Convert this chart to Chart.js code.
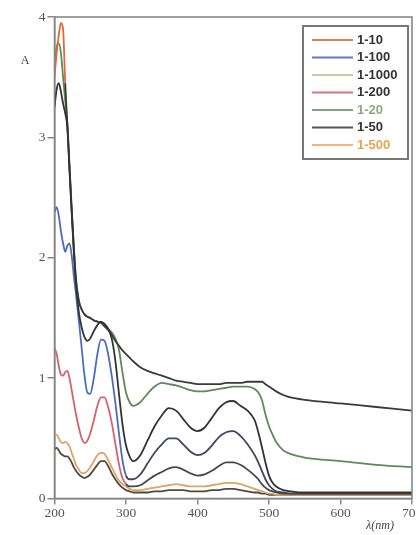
<!DOCTYPE html>
<html>
<head>
<meta charset="utf-8">
<script src="https://cdn.jsdelivr.net/npm/chart.js@4.4.1/dist/chart.umd.min.js"></script>
<style>
  html, body { margin: 0; padding: 0; background: #fff; }
  #wrap { width: 416px; height: 535px; }
</style>
</head>
<body>
<div id="wrap"><canvas id="myChart" width="416" height="535"></canvas></div>
<script>
// wavelength grid (nm), shared by all the dilutions
const wavelengths = [200, 203, 206, 209, 212, 215, 218, 221, 224, 227, 230, 234, 238, 242, 246, 250, 255, 260, 265, 270,
  275, 280, 285, 290, 295, 300, 305, 310, 320, 330, 340, 350, 360, 370, 380, 390, 400, 410, 420, 430,
  440, 450, 460, 470, 480, 485, 490, 495, 500, 505, 510, 520, 530, 550, 600, 650, 700];

const a10 = [3.5, 3.7, 3.85, 3.95, 3.9, 3.45, 3.1, 2.75, 2.4, 2.08, 1.82, 1.64, 1.57, 1.53, 1.51, 1.5, 1.48, 1.47, 1.46, 1.43,
  1.4, 1.36, 1.31, 1.27, 1.23, 1.2, 1.17, 1.14, 1.09, 1.06, 1.04, 1.02, 1.0, 0.98, 0.97, 0.96, 0.95, 0.95, 0.95, 0.95,
  0.96, 0.96, 0.96, 0.97, 0.97, 0.97, 0.97, 0.95, 0.93, 0.91, 0.89, 0.86, 0.84, 0.82, 0.79, 0.76, 0.73];
const a100 = [2.38, 2.42, 2.35, 2.22, 2.12, 2.05, 2.1, 2.12, 2.02, 1.85, 1.7, 1.48, 1.25, 1.02, 0.88, 0.87, 1.0, 1.2, 1.32, 1.31,
  1.2, 1.02, 0.8, 0.55, 0.32, 0.19, 0.16, 0.16, 0.2, 0.29, 0.38, 0.45, 0.5, 0.5, 0.45, 0.39, 0.36, 0.38, 0.44, 0.51,
  0.55, 0.56, 0.52, 0.45, 0.36, 0.3, 0.23, 0.16, 0.11, 0.08, 0.06, 0.05, 0.04, 0.04, 0.04, 0.04, 0.04];
const a1000 = [0.41, 0.42, 0.4, 0.37, 0.36, 0.35, 0.35, 0.33, 0.3, 0.26, 0.23, 0.2, 0.18, 0.17, 0.18, 0.2, 0.24, 0.28, 0.31, 0.31,
  0.27, 0.21, 0.16, 0.12, 0.09, 0.07, 0.06, 0.05, 0.05, 0.05, 0.06, 0.06, 0.07, 0.07, 0.07, 0.06, 0.06, 0.06, 0.07, 0.07,
  0.08, 0.08, 0.07, 0.06, 0.05, 0.05, 0.04, 0.04, 0.03, 0.03, 0.03, 0.03, 0.03, 0.03, 0.03, 0.03, 0.03];
const a200 = [1.25, 1.2, 1.1, 1.03, 1.02, 1.05, 1.06, 1.0, 0.9, 0.8, 0.7, 0.59, 0.5, 0.46, 0.48, 0.54, 0.65, 0.77, 0.84, 0.84,
  0.76, 0.63, 0.46, 0.29, 0.17, 0.12, 0.1, 0.1, 0.11, 0.15, 0.19, 0.22, 0.25, 0.26, 0.24, 0.21, 0.19, 0.2, 0.23, 0.27,
  0.3, 0.3, 0.28, 0.24, 0.19, 0.16, 0.12, 0.09, 0.07, 0.06, 0.05, 0.04, 0.04, 0.04, 0.04, 0.04, 0.04];
const a20 = [3.55, 3.75, 3.78, 3.7, 3.5, 3.3, 3.12, 2.77, 2.42, 2.1, 1.83, 1.65, 1.57, 1.53, 1.51, 1.5, 1.48, 1.47, 1.46, 1.44,
  1.41, 1.38, 1.33, 1.24, 1.05, 0.88, 0.8, 0.77, 0.8, 0.87, 0.93, 0.96, 0.95, 0.94, 0.92, 0.9, 0.89, 0.89, 0.9, 0.91,
  0.92, 0.93, 0.93, 0.93, 0.91, 0.88, 0.82, 0.7, 0.6, 0.53, 0.47, 0.4, 0.37, 0.34, 0.31, 0.28, 0.26];
const a50 = [3.25, 3.4, 3.45, 3.38, 3.28, 3.2, 3.08, 2.72, 2.38, 2.05, 1.78, 1.55, 1.42, 1.34, 1.31, 1.33, 1.39, 1.44, 1.47, 1.45,
  1.41, 1.33, 1.15, 0.88, 0.62, 0.44, 0.35, 0.31, 0.36, 0.48, 0.6, 0.69, 0.75, 0.73, 0.66, 0.59, 0.56, 0.59, 0.67, 0.75,
  0.8, 0.81, 0.77, 0.73, 0.65, 0.55, 0.43, 0.3, 0.19, 0.13, 0.1, 0.07, 0.06, 0.05, 0.05, 0.05, 0.05];
const a500 = [0.52, 0.53, 0.5, 0.47, 0.46, 0.47, 0.46, 0.43, 0.38, 0.33, 0.28, 0.24, 0.21, 0.21, 0.23, 0.26, 0.31, 0.36, 0.38, 0.37,
  0.32, 0.26, 0.2, 0.15, 0.12, 0.1, 0.08, 0.07, 0.07, 0.08, 0.09, 0.1, 0.11, 0.12, 0.11, 0.1, 0.1, 0.1, 0.11, 0.12,
  0.13, 0.13, 0.12, 0.1, 0.08, 0.07, 0.06, 0.05, 0.04, 0.04, 0.03, 0.03, 0.03, 0.03, 0.03, 0.03, 0.03];

const seriesNames = ['1-10', '1-100', '1-1000', '1-200', '1-20', '1-50', '1-500'];
const seriesValues = [a10, a100, a1000, a200, a20, a50, a500];

const xTicks = [200, 300, 400, 500, 600, 700];
const yTicks = [0, 1, 2, 3, 4];

// line looks: coloured in the UV part, darker where the points pile up
const uvColors = ['#e0683f', '#4d6cc0', '#4d4a3e', '#d8606c', '#5e9a5a', '#333333', '#eaa866'];
const visColors = ['#3a3a3a', '#3e4660', '#4d4a3e', '#474747', '#5e8a5a', '#333333', '#e0a46a'];
const colorCut = [214, 300, 0, 298, 0, 0, 0];
const drawOrder = [1, 3, 6, 4, 2, 0, 5];

const legendLine = ['#e07a5a', '#5b7bc4', '#c9c9a2', '#e07080', '#78a878', '#555566', '#f0b878'];
const legendText = ['#333', '#333', '#333', '#333', '#86ad78', '#333', '#eaa14e'];

const serif = "'Liberation Serif', 'DejaVu Serif', serif";

const datasets = seriesNames.map((name, i) => ({
  label: name,
  data: wavelengths.map((x, k) => ({ x: x, y: seriesValues[i][k] })),
  borderColor: visColors[i],
  borderWidth: 1.8,
  pointRadius: 0,
  cubicInterpolationMode: 'monotone',
  order: drawOrder[i],
  segment: {
    borderColor: c => c.p0.parsed.x < colorCut[i] ? uvColors[i] : visColors[i]
  }
}));

const framePlugin = {
  id: 'frame',
  afterDraw(chart) {
    const c = chart.ctx;
    const a = chart.chartArea;
    c.save();
    c.strokeStyle = '#888';
    c.lineWidth = 1.6;
    c.strokeRect(a.left, a.top, a.right - a.left, a.bottom - a.top);

    // legend box
    c.fillStyle = '#fff';
    c.fillRect(303, 26, 105, 133);
    c.strokeStyle = '#777';
    c.lineWidth = 2;
    c.strokeRect(303, 26, 105, 133);
    c.font = "bold 13px 'Liberation Sans', Arial, sans-serif";
    c.textBaseline = 'middle';
    seriesNames.forEach((name, i) => {
      const y = 40 + i * 17.5;
      c.strokeStyle = legendLine[i];
      c.lineWidth = 2.2;
      c.beginPath();
      c.moveTo(312, y);
      c.lineTo(353, y);
      c.stroke();
      c.fillStyle = legendText[i];
      c.fillText(name, 357, y);
    });

    // axis titles
    c.fillStyle = '#444';
    c.font = '12px ' + serif;
    c.textAlign = 'center';
    c.fillText('A', 25, 61);
    c.font = 'italic 12px ' + serif;
    c.fillText('λ(nm)', 380, 526);
    c.restore();
  }
};

const ctx = document.getElementById('myChart').getContext('2d');
const myChart = new Chart(ctx, {
  type: 'line',
  data: { datasets: datasets },
  options: {
    responsive: false,
    animation: false,
    layout: { padding: { top: 17, right: 4, left: 0, bottom: 0 } },
    plugins: {
      legend: { display: false },
      tooltip: { enabled: false }
    },
    scales: {
      x: {
        type: 'linear',
        min: 200,
        max: 700,
        afterBuildTicks: s => { s.ticks = xTicks.map(v => ({ value: v })); },
        afterFit: s => { s.height = 36.5; s.paddingRight = 0; s.paddingLeft = 0; },
        grid: { drawOnChartArea: false, tickLength: 6, color: '#888', lineWidth: 1.5 },
        border: { color: '#888', width: 1.6 },
        ticks: { color: '#555', padding: 1, font: { family: serif, size: 13.5 } }
      },
      y: {
        min: 0,
        max: 4,
        afterBuildTicks: s => { s.ticks = yTicks.map(v => ({ value: v })); },
        afterFit: s => { s.width = 54.5; s.paddingTop = 0; s.paddingBottom = 0; },
        grid: { drawOnChartArea: false, tickLength: 7, color: '#888', lineWidth: 1.5 },
        border: { color: '#888', width: 1.6 },
        ticks: { color: '#555', padding: 2, font: { family: serif, size: 13.5 } }
      }
    }
  },
  plugins: [framePlugin]
});
</script>
</body>
</html>
